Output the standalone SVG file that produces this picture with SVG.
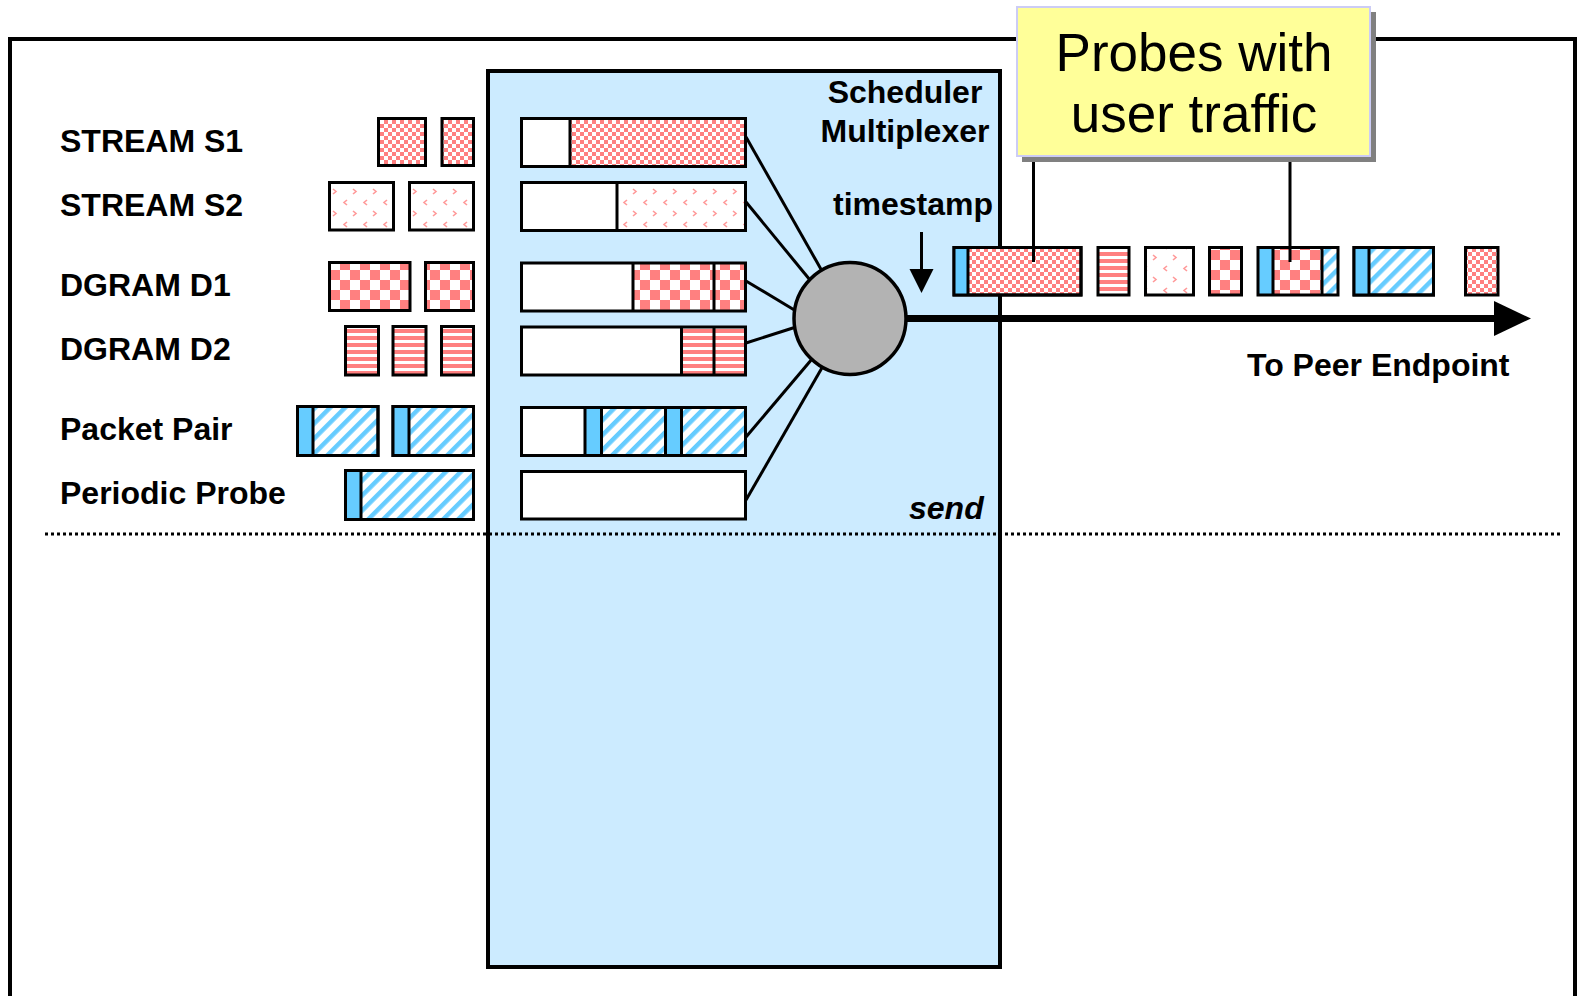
<svg xmlns="http://www.w3.org/2000/svg" width="1578" height="996" viewBox="0 0 1578 996">
<defs>
<pattern id="chk" x="0" y="0" width="8" height="8" patternUnits="userSpaceOnUse">
<rect width="8" height="8" fill="#fff"/>
<rect width="4" height="4" fill="#FF8080"/>
<rect x="4" y="4" width="4" height="4" fill="#FF8080"/>
</pattern>
<pattern id="bchk" x="0" y="0" width="20" height="20" patternUnits="userSpaceOnUse">
<rect width="20" height="20" fill="#fff"/>
<rect width="10" height="10" fill="#FF8080"/>
<rect x="10" y="10" width="10" height="10" fill="#FF8080"/>
</pattern>
<pattern id="hstr" x="0" y="0" width="8" height="7" patternUnits="userSpaceOnUse">
<rect width="8" height="7" fill="#fff"/>
<rect width="8" height="4" fill="#FF8080"/>
</pattern>
<pattern id="tri" x="0" y="0" width="20" height="22" patternUnits="userSpaceOnUse">
<rect width="20" height="22" fill="#fff"/>
<path d="M7,2 L4,4.5 L7,7 M13,13 L16,15.5 L13,18" fill="none" stroke="#FF9999" stroke-width="1.6"/>
</pattern>
<pattern id="dstr" x="0" y="0" width="10.6" height="10.6" patternUnits="userSpaceOnUse" patternTransform="rotate(45)">
<rect width="10.6" height="10.6" fill="#fff"/>
<rect width="4.5" height="10.6" fill="#66CCFF"/>
</pattern>
<style>
.lbl{font-family:"Liberation Sans",Arial,sans-serif;font-weight:bold;font-size:32px;fill:#000}
.bx{stroke:#000;stroke-width:3;}
.ln{stroke:#000;stroke-width:3;fill:none}
.bar{fill:#66CCFF}
</style>
</defs>
<rect width="1578" height="996" fill="#fff"/>
<g id="frame">
<path d="M10,1000 V39 H1575 V1000" fill="none" stroke="#000" stroke-width="4"/>
</g>
<g id="scheduler">
<rect x="488" y="71" width="512" height="896" fill="#CCEBFF" stroke="#000" stroke-width="4"/>
<text class="lbl" x="905" y="103" text-anchor="middle">Scheduler</text>
<text class="lbl" x="905" y="142" text-anchor="middle">Multiplexer</text>
</g>
<g id="labels">
<text class="lbl" x="60" y="152">STREAM S1</text>
<text class="lbl" x="60" y="216">STREAM S2</text>
<text class="lbl" x="60" y="296">DGRAM D1</text>
<text class="lbl" x="60" y="360">DGRAM D2</text>
<text class="lbl" x="60" y="440">Packet Pair</text>
<text class="lbl" x="60" y="504">Periodic Probe</text>
</g>
<g id="dotted">
<line x1="45" y1="534" x2="1562" y2="534" stroke="#000" stroke-width="3" stroke-dasharray="3 3"/>
</g>
<g id="input-s1">
<rect class="bx" x="378.5" y="118.5" width="47" height="47" fill="url(#chk)"/>
<rect class="bx" x="442" y="118.5" width="31.5" height="47" fill="url(#chk)"/>
</g>
<g id="input-s2">
<rect class="bx" x="329.5" y="182.5" width="64" height="47.5" fill="url(#tri)"/>
<rect class="bx" x="409.5" y="182.5" width="64" height="47.5" fill="url(#tri)"/>
</g>
<g id="input-d1">
<rect class="bx" x="329.5" y="262.5" width="80.5" height="48" fill="url(#bchk)"/>
<rect class="bx" x="425.5" y="262.5" width="48" height="48" fill="url(#bchk)"/>
</g>
<g id="input-d2">
<rect class="bx" x="345.5" y="326.5" width="33" height="48.5" fill="url(#hstr)"/>
<rect class="bx" x="393" y="326.5" width="33" height="48.5" fill="url(#hstr)"/>
<rect class="bx" x="441.5" y="326.5" width="32" height="48.5" fill="url(#hstr)"/>
</g>
<g id="input-pp">
<rect class="bx" x="297.5" y="406.5" width="80.5" height="49" fill="url(#dstr)"/>
<rect class="bar" x="297.5" y="406.5" width="15.5" height="49"/>
<line class="ln" x1="313" y1="406.5" x2="313" y2="455.5"/>
<rect class="bx" x="297.5" y="406.5" width="80.5" height="49" fill="none"/>
<rect class="bx" x="393" y="406.5" width="80.5" height="49" fill="url(#dstr)"/>
<rect class="bar" x="393" y="406.5" width="16" height="49"/>
<line class="ln" x1="409" y1="406.5" x2="409" y2="455.5"/>
<rect class="bx" x="393" y="406.5" width="80.5" height="49" fill="none"/>
</g>
<g id="input-probe">
<rect class="bx" x="345.5" y="470.5" width="128" height="49" fill="url(#dstr)"/>
<rect class="bar" x="345.5" y="470.5" width="15.5" height="49"/>
<line class="ln" x1="361" y1="470.5" x2="361" y2="519.5"/>
<rect class="bx" x="345.5" y="470.5" width="128" height="49" fill="none"/>
</g>
<g id="queue-s1">
<rect x="521.5" y="118.5" width="224" height="48" fill="#fff"/>
<rect x="570" y="118.5" width="175.5" height="48" fill="url(#chk)"/>
<line class="ln" x1="570" y1="118.5" x2="570" y2="166.5"/>
<rect class="bx" x="521.5" y="118.5" width="224" height="48" fill="none"/>
</g>
<g id="queue-s2">
<rect x="521.5" y="182.5" width="224" height="48" fill="#fff"/>
<rect x="617" y="182.5" width="128.5" height="48" fill="url(#tri)"/>
<line class="ln" x1="617" y1="182.5" x2="617" y2="230.5"/>
<rect class="bx" x="521.5" y="182.5" width="224" height="48" fill="none"/>
</g>
<g id="queue-d1">
<rect x="521.5" y="263" width="224" height="48" fill="#fff"/>
<rect x="633" y="263" width="112.5" height="48" fill="url(#bchk)"/>
<path class="ln" d="M633,263 V311 M714,263 V311"/>
<rect class="bx" x="521.5" y="263" width="224" height="48" fill="none"/>
</g>
<g id="queue-d2">
<rect x="521.5" y="327" width="224" height="48" fill="#fff"/>
<rect x="681.5" y="327" width="64" height="48" fill="url(#hstr)"/>
<path class="ln" d="M681.5,327 V375 M714,327 V375"/>
<rect class="bx" x="521.5" y="327" width="224" height="48" fill="none"/>
</g>
<g id="queue-pp">
<rect x="521.5" y="407.5" width="224" height="48" fill="#fff"/>
<rect x="585" y="407.5" width="160.5" height="48" fill="url(#dstr)"/>
<rect class="bar" x="585" y="407.5" width="16.5" height="48"/>
<rect class="bar" x="665.5" y="407.5" width="16" height="48"/>
<path class="ln" d="M585,407.5 V455.5 M601.5,407.5 V455.5 M665.5,407.5 V455.5 M681.5,407.5 V455.5"/>
<rect class="bx" x="521.5" y="407.5" width="224" height="48" fill="none"/>
</g>
<g id="queue-probe">
<rect class="bx" x="521.5" y="471.5" width="224" height="47.5" fill="#fff"/>
</g>
<g id="connectors">
<line class="ln" x1="746" y1="137" x2="822" y2="271"/>
<line class="ln" x1="746" y1="202" x2="810" y2="280"/>
<line class="ln" x1="746" y1="281" x2="796" y2="311"/>
<line class="ln" x1="746" y1="343" x2="796" y2="327"/>
<line class="ln" x1="746" y1="437" x2="812" y2="359"/>
<line class="ln" x1="746" y1="500" x2="823" y2="366"/>
<line x1="904" y1="318.5" x2="1497" y2="318.5" stroke="#000" stroke-width="7"/>
<polygon points="1494,301 1531,318.5 1494,336" fill="#000"/>
<line class="ln" x1="921.5" y1="232" x2="921.5" y2="272"/>
<polygon points="909.5,269 933.5,269 921.5,293" fill="#000"/>
</g>
<g id="mux">
<circle cx="850" cy="318.5" r="56" fill="#B3B3B3" stroke="#000" stroke-width="3.5"/>
</g>
<g id="timestamp-label">
<text class="lbl" x="833" y="215">timestamp</text>
</g>
<g id="send-label">
<text class="lbl" x="909" y="519" font-style="italic">send</text>
</g>
<g id="out-p1">
<rect class="bx" x="954" y="247.5" width="127" height="47.5" fill="url(#chk)"/>
<rect class="bar" x="954" y="247.5" width="14" height="47.5"/>
<line class="ln" x1="968" y1="247.5" x2="968" y2="295"/>
<rect class="bx" x="954" y="247.5" width="127" height="47.5" fill="none"/>
</g>
<g id="out-p2">
<rect class="bx" x="1098" y="247.5" width="31" height="47.5" fill="url(#hstr)"/>
</g>
<g id="out-p3">
<rect class="bx" x="1145.5" y="247.5" width="48" height="47.5" fill="url(#tri)"/>
</g>
<g id="out-p4">
<rect class="bx" x="1209.5" y="247.5" width="32" height="47.5" fill="url(#bchk)"/>
</g>
<g id="out-p5">
<rect x="1258" y="247.5" width="80" height="47.5" fill="url(#dstr)"/>
<rect x="1273" y="247.5" width="49" height="47.5" fill="url(#bchk)"/>
<rect class="bar" x="1258" y="247.5" width="15" height="47.5"/>
<path class="ln" d="M1273,247.5 V295 M1322,247.5 V295"/>
<rect class="bx" x="1258" y="247.5" width="80" height="47.5" fill="none"/>
</g>
<g id="out-p6">
<rect class="bx" x="1354" y="247.5" width="79.5" height="47.5" fill="url(#dstr)"/>
<rect class="bar" x="1354" y="247.5" width="15" height="47.5"/>
<line class="ln" x1="1369" y1="247.5" x2="1369" y2="295"/>
<rect class="bx" x="1354" y="247.5" width="79.5" height="47.5" fill="none"/>
</g>
<g id="out-p7">
<rect class="bx" x="1465.5" y="247.5" width="32.5" height="47.5" fill="url(#chk)"/>
</g>
<g id="peer-label">
<text class="lbl" x="1247" y="376">To Peer Endpoint</text>
</g>
<g id="callout-lines">
<line class="ln" x1="1033.5" y1="156" x2="1033.5" y2="262"/>
<line class="ln" x1="1290" y1="156" x2="1290" y2="262"/>
</g>
<g id="callout">
<rect x="1022" y="12" width="354" height="150" fill="#808080"/>
<rect x="1017" y="7" width="353" height="149" fill="#FFFF99" stroke="#CCCCF5" stroke-width="2"/>
<text x="1194" y="71" text-anchor="middle" font-family="'Liberation Sans',Arial,sans-serif" font-size="53">Probes with</text>
<text x="1194" y="132" text-anchor="middle" font-family="'Liberation Sans',Arial,sans-serif" font-size="53">user traffic</text>
</g>
</svg>
